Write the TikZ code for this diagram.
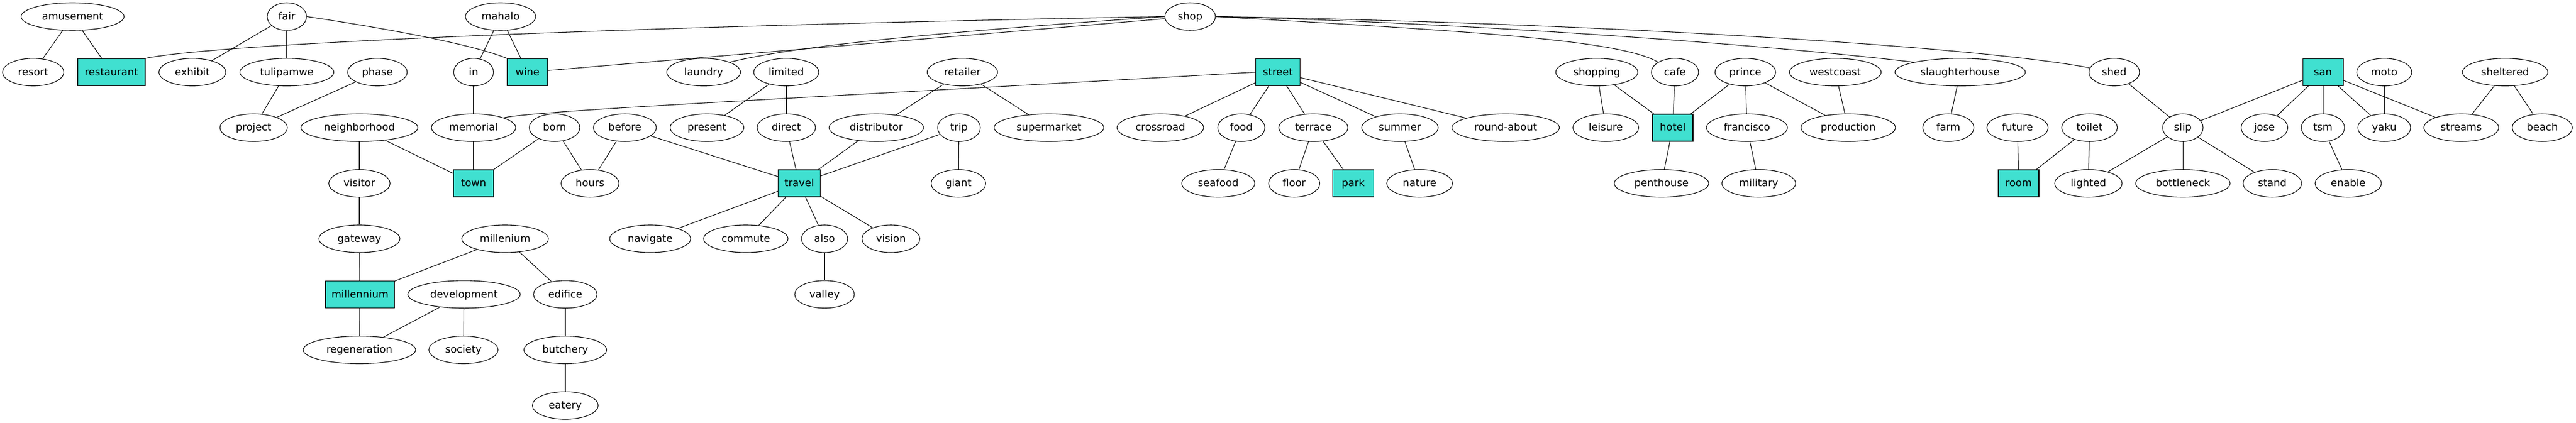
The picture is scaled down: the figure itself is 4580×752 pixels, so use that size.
\documentclass[tikz,border=0pt]{standalone}
\usepackage{fontspec}
\setmainfont{DejaVu Sans}
\usetikzlibrary{shapes.geometric}
\definecolor{turq}{HTML}{40E0D0}
\tikzset{
  base/.style={draw=black, line width=1.1pt, inner sep=0pt, text height=13pt, text depth=1.5pt,
    font=\fontsize{18.2}{22}\selectfont},
  ell/.style={base, ellipse, minimum height=49pt},
  bx/.style={base, rectangle, fill=turq, minimum height=48pt},
  edge/.style={line width=1.05pt, black}
}
\begin{document}
\begin{tikzpicture}[x=1pt,y=-1pt]
\useasboundingbox (0,0) rectangle (4580,752);
\fill[white] (0,0) rectangle (4580,752);
% row 1
\node[ell, minimum width=183pt] (amusement) at (129,29.5) {amusement};
\node[ell, minimum width=70pt] (fair) at (510,29.5) {fair};
\node[ell, minimum width=125pt] (mahalo) at (890,29.5) {mahalo};
\node[ell, minimum width=90pt] (shop) at (2116,29.5) {shop};
% row 2
\def\yb{128.3}
\node[ell, minimum width=109pt] (resort) at (59,\yb) {resort};
\node[bx, minimum width=120pt] (restaurant) at (198,\yb) {restaurant};
\node[ell, minimum width=119pt] (exhibit) at (342,\yb) {exhibit};
\node[ell, minimum width=167pt] (tulipamwe) at (510,\yb) {tulipamwe};
\node[ell, minimum width=106pt] (phase) at (671,\yb) {phase};
\node[ell, minimum width=71pt] (nin) at (842,\yb) {in};
\node[bx, minimum width=72pt] (wine) at (938,\yb) {wine};
\node[ell, minimum width=131pt] (laundry) at (1251,\yb) {laundry};
\node[ell, minimum width=116pt] (limited) at (1398,\yb) {limited};
\node[ell, minimum width=125pt] (retailer) at (1711,\yb) {retailer};
\node[bx, minimum width=79pt] (street) at (2272,\yb) {street};
\node[ell, minimum width=146pt] (shopping) at (2839,\yb) {shopping};
\node[ell, minimum width=84pt] (cafe) at (2978,\yb) {cafe};
\node[ell, minimum width=108pt] (prince) at (3103,\yb) {prince};
\node[ell, minimum width=163pt] (westcoast) at (3263,\yb) {westcoast};
\node[ell, minimum width=232pt] (slaughterhouse) at (3485,\yb) {slaughterhouse};
\node[ell, minimum width=90pt] (shed) at (3759,\yb) {shed};
\node[bx, minimum width=72pt] (san) at (4130,\yb) {san};
\node[ell, minimum width=98pt] (moto) at (4239,\yb) {moto};
\node[ell, minimum width=152pt] (sheltered) at (4454,\yb) {sheltered};
% row 3
\def\yc{227}
\node[ell, minimum width=120pt] (project) at (451,\yc) {project};
\node[ell, minimum width=208pt] (neighborhood) at (639,\yc) {neighborhood};
\node[ell, minimum width=150pt] (memorial) at (842,\yc) {memorial};
\node[ell, minimum width=90pt] (born) at (986,\yc) {born};
\node[ell, minimum width=112pt] (before) at (1111,\yc) {before};
\node[ell, minimum width=131pt] (present) at (1257,\yc) {present};
\node[ell, minimum width=104pt] (direct) at (1398,\yc) {direct};
\node[ell, minimum width=168pt] (distributor) at (1558,\yc) {distributor};
\node[ell, minimum width=76pt] (trip) at (1705,\yc) {trip};
\node[ell, minimum width=195pt] (supermarket) at (1865,\yc) {supermarket};
\node[ell, minimum width=154pt] (crossroad) at (2063,\yc) {crossroad};
\node[ell, minimum width=84pt] (food) at (2207,\yc) {food};
\node[ell, minimum width=123pt] (terrace) at (2335,\yc) {terrace};
\node[ell, minimum width=136pt] (summer) at (2489,\yc) {summer};
\node[ell, minimum width=191pt] (roundabout) at (2677,\yc) {round-about};
\node[ell, minimum width=117pt] (leisure) at (2855,\yc) {leisure};
\node[bx, minimum width=72pt] (hotel) at (2974,\yc) {hotel};
\node[ell, minimum width=144pt] (francisco) at (3106,\yc) {francisco};
\node[ell, minimum width=168pt] (production) at (3286,\yc) {production};
\node[ell, minimum width=91pt] (farm) at (3464,\yc) {farm};
\node[ell, minimum width=109pt] (future) at (3587,\yc) {future};
\node[ell, minimum width=99pt] (toilet) at (3715,\yc) {toilet};
\node[ell, minimum width=72pt] (slip) at (3881,\yc) {slip};
\node[ell, minimum width=83pt] (jose) at (4026,\yc) {jose};
\node[ell, minimum width=77pt] (tsm) at (4130,\yc) {tsm};
\node[ell, minimum width=94pt] (yaku) at (4239,\yc) {yaku};
\node[ell, minimum width=133pt] (streams) at (4376,\yc) {streams};
\node[ell, minimum width=107pt] (beach) at (4520,\yc) {beach};
% row 4
\def\yd{326}
\node[ell, minimum width=109pt] (visitor) at (639,\yd) {visitor};
\node[bx, minimum width=71pt] (town) at (842,\yd) {town};
\node[ell, minimum width=103pt] (hours) at (1049,\yd) {hours};
\node[bx, minimum width=75pt] (travel) at (1421,\yd) {travel};
\node[ell, minimum width=97pt] (giant) at (1704,\yd) {giant};
\node[ell, minimum width=130pt] (seafood) at (2166,\yd) {seafood};
\node[ell, minimum width=91pt] (floor) at (2301,\yd) {floor};
\node[bx, minimum width=73pt] (park) at (2406,\yd) {park};
\node[ell, minimum width=117pt] (nature) at (2524,\yd) {nature};
\node[ell, minimum width=168pt] (penthouse) at (2954,\yd) {penthouse};
\node[ell, minimum width=131pt] (military) at (3127,\yd) {military};
\node[bx, minimum width=72pt] (room) at (3589,\yd) {room};
\node[ell, minimum width=120pt] (lighted) at (3713,\yd) {lighted};
\node[ell, minimum width=168pt] (bottleneck) at (3881,\yd) {bottleneck};
\node[ell, minimum width=104pt] (stand) at (4040,\yd) {stand};
\node[ell, minimum width=118pt] (enable) at (4175,\yd) {enable};
% row 5
\def\ye{424.5}
\node[ell, minimum width=144pt] (gateway) at (639,\ye) {gateway};
\node[ell, minimum width=154pt] (millenium) at (898,\ye) {millenium};
\node[ell, minimum width=144pt] (navigate) at (1156,\ye) {navigate};
\node[ell, minimum width=150pt] (commute) at (1326,\ye) {commute};
\node[ell, minimum width=82pt] (also) at (1466,\ye) {also};
\node[ell, minimum width=103pt] (vision) at (1584,\ye) {vision};
% row 6
\def\yf{523.3}
\node[bx, minimum width=122pt] (millennium) at (640,\yf) {millennium};
\node[ell, minimum width=200pt] (development) at (825,\yf) {development};
\node[ell, minimum width=113pt] (edifice) at (1005,\yf) {edifice};
\node[ell, minimum width=106pt] (valley) at (1466,\yf) {valley};
% row 7
\def\yg{622}
\node[ell, minimum width=200pt] (regeneration) at (639,\yg) {regeneration};
\node[ell, minimum width=123pt] (society) at (824,\yg) {society};
\node[ell, minimum width=147pt] (butchery) at (1005,\yg) {butchery};
% row 8
\node[ell, minimum width=117pt] (eatery) at (1005,720.8) {eatery};

% straight edges
\foreach \a/\b in {amusement/resort, amusement/restaurant, fair/exhibit, fair/tulipamwe,
  mahalo/nin, mahalo/wine, tulipamwe/project, phase/project, nin/memorial, memorial/town,
  neighborhood/town, neighborhood/visitor, born/town, born/hours, before/hours, before/travel,
  limited/present, limited/direct, direct/travel, retailer/distributor, retailer/supermarket,
  distributor/travel, trip/travel, trip/giant, street/crossroad, street/food, street/terrace,
  street/summer, street/roundabout, food/seafood, terrace/floor, terrace/park, summer/nature,
  travel/navigate, travel/commute, travel/also, travel/vision, also/valley, visitor/gateway,
  gateway/millennium, millenium/millennium, millenium/edifice, millennium/regeneration,
  development/regeneration, development/society, edifice/butchery, butchery/eatery,
  shopping/leisure, shopping/hotel, cafe/hotel, prince/hotel, prince/francisco,
  prince/production, westcoast/production, hotel/penthouse, francisco/military,
  slaughterhouse/farm, shed/slip, future/room, toilet/room, toilet/lighted, san/slip,
  san/jose, san/tsm, san/yaku, san/streams, moto/yaku, sheltered/streams, sheltered/beach,
  slip/lighted, slip/bottleneck, slip/stand, tsm/enable, shop/wine}
  \draw[edge] (\a) -- (\b);

% curved edges
\draw[edge] (shop.west) .. controls (1200,45) and (400,75) .. (restaurant.north east);
\draw[edge] (shop.west) .. controls (1700,55) and (1420,80) .. (laundry.north east);
\draw[edge] (fair.east) .. controls (650,45) and (830,75) .. (wine.north west);
\draw[edge] (shop.east) .. controls (2600,55) and (2880,70) .. (cafe.north west);
\draw[edge] (shop.east) .. controls (2600,40) and (3150,80) .. (slaughterhouse.north west);
\draw[edge] (shop.east) .. controls (2800,40) and (3500,80) .. (shed.170);
\draw[edge] (street.west) .. controls (1400,176) and (960,196) .. (memorial.north east);
\end{tikzpicture}
\end{document}
